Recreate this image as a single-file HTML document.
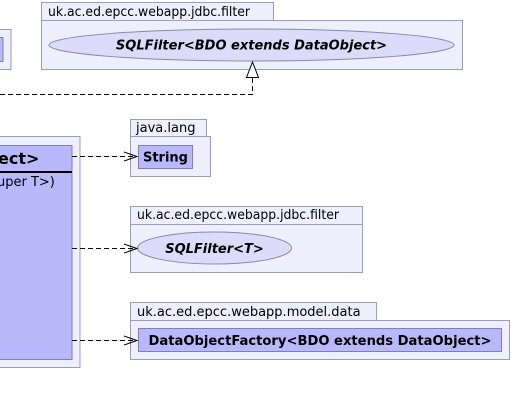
<!DOCTYPE html>
<html><head><meta charset="utf-8"><style>
body{margin:0;background:#fff;}
svg text{font-family:"DejaVu Sans","Liberation Sans",sans-serif;}
</style></head><body>
<svg width="512" height="405" viewBox="0 0 512 405" xmlns="http://www.w3.org/2000/svg">
<g stroke="#9c9cb4" stroke-width="1" fill="#eeeefc">
<rect x="41.5" y="2.5" width="232" height="18"/>
<rect x="41.5" y="20.5" width="421" height="49"/>
<rect x="-1" y="29.5" width="12" height="40"/>
<rect x="130.5" y="119.5" width="76" height="17"/>
<rect x="130.5" y="136.5" width="80" height="40"/>
<rect x="-1" y="136.5" width="81" height="231"/>
<rect x="130.5" y="206.5" width="232" height="18"/>
<rect x="130.5" y="224.5" width="232" height="48"/>
<rect x="130.5" y="302.5" width="246" height="18"/>
<rect x="130.5" y="320.5" width="379" height="39"/>
</g>
<g stroke="#8888a8" stroke-width="1" fill="#dcdcfa">
<ellipse cx="251.5" cy="45" rx="202.5" ry="16"/>
<ellipse cx="214.5" cy="248" rx="77" ry="16"/>
</g>
<g stroke="#7f7fb0" stroke-width="1" fill="#b8b8fc">
<rect x="-1" y="37.5" width="4" height="24"/>
<rect x="138.5" y="145.5" width="54" height="23"/>
<rect x="-1" y="145.5" width="73" height="214"/>
<rect x="138.5" y="328.5" width="363" height="23"/>
</g>
<line x1="0" y1="172" x2="72" y2="172" stroke="#000" stroke-width="2"/>
<g stroke="#000" stroke-width="1" fill="none" stroke-dasharray="5,3">
<path d="M0 94.5 H252.5 V78"/>
<path d="M72 156.5 H137"/>
<path d="M72 248.5 H137"/>
<path d="M72 340.5 H137"/>
</g>
<polygon points="252.5,62 246.5,77.5 258.5,77.5" fill="#fff" stroke="#000"/>
<g stroke="#000" fill="none">
<path d="M124 152 L137 156.5 L124 161"/>
<path d="M124 244 L137 248.5 L124 253"/>
<path d="M124 336 L137 340.5 L124 345"/>
</g>
<g font-size="13" fill="#000">
<text x="48" y="16" textLength="202" lengthAdjust="spacingAndGlyphs">uk.ac.ed.epcc.webapp.jdbc.filter</text>
<text x="136" y="132">java.lang</text>
<text x="137" y="219" textLength="202" lengthAdjust="spacingAndGlyphs">uk.ac.ed.epcc.webapp.jdbc.filter</text>
<text x="137" y="316">uk.ac.ed.epcc.webapp.model.data</text>
<text x="-3" y="186">uper T&gt;)</text>
</g>
<g font-weight="bold" font-size="13" fill="#000">
<text x="251.5" y="49.5" text-anchor="middle" font-style="italic">SQLFilter&lt;BDO extends DataObject&gt;</text>
<text x="214.5" y="253" text-anchor="middle" font-style="italic">SQLFilter&lt;T&gt;</text>
<text x="165.5" y="161.5" text-anchor="middle">String</text>
<text x="320" y="345" text-anchor="middle" textLength="343" lengthAdjust="spacingAndGlyphs">DataObjectFactory&lt;BDO extends DataObject&gt;</text>
<text x="-2" y="164" font-size="16">ect&gt;</text>
</g>
</svg>
</body></html>
